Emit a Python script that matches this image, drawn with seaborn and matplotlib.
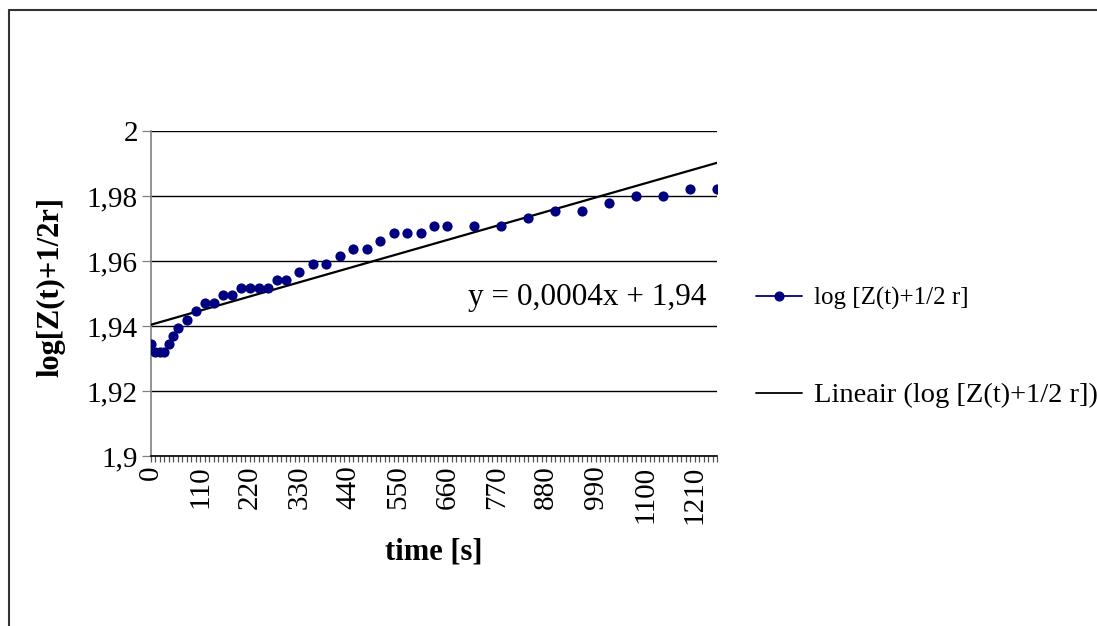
import numpy as np
import pandas as pd
import seaborn as sns
import matplotlib.pyplot as plt
from matplotlib.ticker import MultipleLocator, FuncFormatter
from matplotlib.lines import Line2D

time_s = [0, 10, 20, 30, 40, 50, 60, 80, 100, 120, 140, 160, 180, 200, 220,
          240, 260, 280, 300, 330, 360, 390, 420, 450, 480, 510, 540, 570,
          600, 630, 660, 720, 780, 840, 900, 960, 1020, 1080, 1140, 1200, 1260]
log_z = [1.9345, 1.9320, 1.9320, 1.9320, 1.9345, 1.9370, 1.9395, 1.9420,
         1.9445, 1.9470, 1.9470, 1.9494, 1.9494, 1.9518, 1.9518, 1.9518,
         1.9518, 1.9542, 1.9542, 1.9566, 1.9590, 1.9590, 1.9614, 1.9638,
         1.9638, 1.9661, 1.9685, 1.9685, 1.9685, 1.9708, 1.9708, 1.9708,
         1.9708, 1.9731, 1.9754, 1.9754, 1.9777, 1.9800, 1.9800, 1.9823,
         1.9823]

series_label = "log [Z(t)+1/2 r]"
trend_label = "Lineair (log [Z(t)+1/2 r])"
equation = "y = 0,0004x + 1,94"

df = pd.DataFrame({"time": time_s, "logz": log_z})

sns.set_style("white")
plt.rcParams["font.family"] = ["Liberation Serif", "DejaVu Serif"]
plt.rcParams["text.color"] = "black"
plt.rcParams["axes.labelcolor"] = "black"

fig = plt.figure(figsize=(10.97, 6.26), dpi=100)
ax = fig.add_axes([151 / 1097, 1 - 456 / 626, (717 - 151) / 1097, (456 - 131) / 626])

navy = "#000080"
sns.regplot(data=df, x="time", y="logz", scatter=False, ci=None, truncate=True,
            color="black", line_kws={"linewidth": 1.6, "zorder": 3}, ax=ax)
sns.scatterplot(data=df, x="time", y="logz", color=navy, s=54, edgecolor=navy,
                linewidth=0, zorder=4, ax=ax)

ax.set_xlim(0, 1260)
ax.set_ylim(1.9, 2.0)
ax.xaxis.set_major_locator(MultipleLocator(110))
ax.xaxis.set_minor_locator(MultipleLocator(10))
ax.yaxis.set_major_locator(MultipleLocator(0.02))
comma = FuncFormatter(lambda v, p: f"{v:g}".replace(".", ","))
ax.yaxis.set_major_formatter(comma)
ax.xaxis.set_major_formatter(FuncFormatter(lambda v, p: f"{v:g}"))

ax.grid(axis="y", color="black", linewidth=1.0)
ax.set_axisbelow(True)
for side in ["top", "right"]:
    ax.spines[side].set_visible(False)
ax.spines["left"].set_color("#808080")
ax.spines["left"].set_linewidth(1.2)
ax.spines["bottom"].set_color("black")
ax.spines["bottom"].set_linewidth(1.2)

ax.tick_params(axis="x", which="both", direction="out", length=4, width=0.9,
               color="#555555", labelcolor="black", labelsize=21,
               labelrotation=90, pad=3, bottom=True)
ax.tick_params(axis="y", which="major", direction="out", length=6.5, width=0.9,
               color="#808080", labelcolor="black", labelsize=21, left=True, pad=3)

ax.set_xlabel("time [s]", fontsize=22, fontweight="bold")
ax.set_ylabel("log[Z(t)+1/2r]", fontsize=22, fontweight="bold")
ax.xaxis.set_label_coords(0.5, -(538 - 456) / 325)
ax.yaxis.set_label_coords(-(151 - 65) / 566, (456 - 287) / 325)

ax.text((468 - 151) / 566, (456 - 297) / 325, equation, transform=ax.transAxes,
        fontsize=22.5, ha="left", va="center")

handles = [
    Line2D([], [], color=navy, marker="o", markersize=6.3, linewidth=1.3),
    Line2D([], [], color="black", linewidth=1.3),
]
leg = fig.legend(handles, [series_label, trend_label], loc="upper left",
                 bbox_to_anchor=(756 / 1097, 1 - 287 / 626), frameon=False,
                 fontsize=18, handlelength=1.85, handletextpad=0.45,
                 labelspacing=2.9, borderaxespad=0, borderpad=0, handleheight=0.7)
leg.get_texts()[1].set_fontsize(20.5)

# chart area border (left and top edges are the visible part)
fig.add_artist(Line2D([9 / 1097, 9 / 1097], [-0.1, 1 - 9.5 / 626],
                      transform=fig.transFigure, color="#333333", linewidth=1.5))
fig.add_artist(Line2D([9 / 1097, 1.1], [1 - 9.5 / 626, 1 - 9.5 / 626],
                      transform=fig.transFigure, color="#333333", linewidth=1.5))

fig.savefig("out.png", dpi=100)
